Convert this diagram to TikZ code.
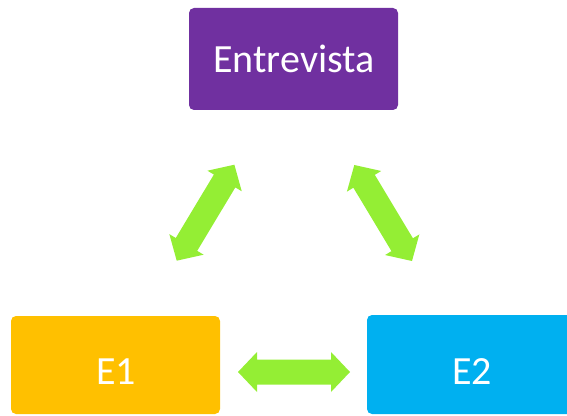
\documentclass[tikz,border=0pt]{standalone}
\usepackage{fontspec}
\setmainfont{Carlito}
\definecolor{boxpurple}{HTML}{7030A0}
\definecolor{boxgold}{HTML}{FFC000}
\definecolor{boxblue}{HTML}{00B0F0}
\definecolor{arrgreen}{RGB}{148,238,52}
\tikzset{
  box/.style={rounded corners=5pt, inner sep=0pt},
  lbl/.style={text=white, font=\fontsize{40}{40}\selectfont},
  dbl/.pic={
    \fill[arrgreen] (0,0) -- (19,20) -- (19,12.5) -- (93,12.5) -- (93,20) -- (112,0)
      -- (93,-20) -- (93,-12.5) -- (19,-12.5) -- (19,-20) -- cycle;
  }
}
\begin{document}
\begin{tikzpicture}[x=1pt,y=1pt]
\useasboundingbox (0,0) rectangle (567,415);
\begin{scope}
\clip (0,0) rectangle (567,415);
\fill[boxpurple, box] (189,305) rectangle (398,407);
\fill[boxgold, box] (11,1) rectangle (220,99);
\fill[boxblue, box] (367,1) rectangle (577,100);
\end{scope}
\node[lbl] (entrevista) at (294,356) {Entrevista};
\node[lbl] (e1) at (116,43) {E1};
\node[lbl] (e2) at (472,43) {E2};
\pic (a1) [rotate=59] at (176.7,154.3) {dbl};
\pic (a2) [rotate=-59] at (354.3,250) {dbl};
\pic (a3) at (238,43) {dbl};
\end{tikzpicture}
\end{document}
